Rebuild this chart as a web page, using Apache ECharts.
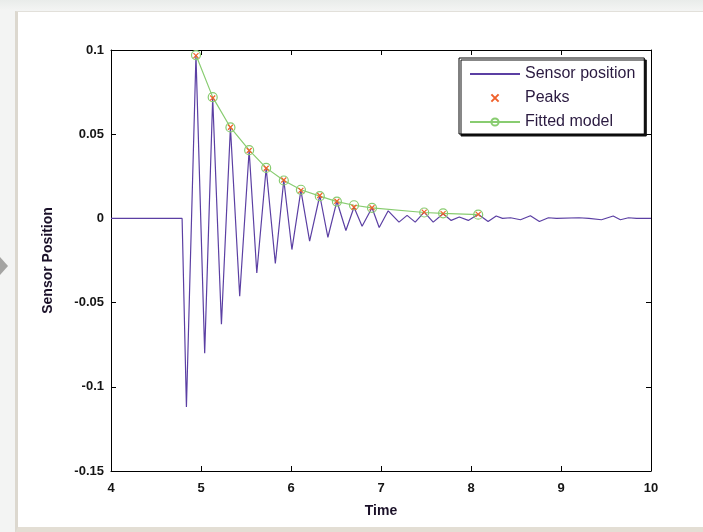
<!DOCTYPE html>
<html>
<head>
<meta charset="utf-8">
<script src="https://cdn.jsdelivr.net/npm/echarts@6/dist/echarts.min.js"></script>
<style>
  html, body {
    margin: 0;
    padding: 0;
    width: 703px;
    height: 532px;
    overflow: hidden;
    background: linear-gradient(to bottom, #e9ecea 0px, #f3f4f3 10px, #f3f4f3 100%);
  }
  .frame {
    position: absolute;
    left: 15px;
    top: 11px;
    width: 700px;
    height: 515px;
    background: #fff;
    border-left: 3px solid #dcd8cf;
    border-top: 1px solid #e2e0da;
    border-bottom: 6px solid #e3ded4;
  }
  .arrow {
    position: absolute;
    left: 0;
    top: 257px;
    width: 0;
    height: 0;
    border-top: 9px solid transparent;
    border-bottom: 9px solid transparent;
    border-left: 8px solid #a4a4a2;
  }
  #chart {
    position: absolute;
    left: 0;
    top: 0;
    width: 703px;
    height: 532px;
  }
</style>
</head>
<body>
<div class="frame"></div>
<div class="arrow"></div>
<div id="chart"></div>
<script>
// sensor trace: turning points
const sensorTime = [
  4.00, 4.79, 4.838, 4.944, 5.041, 5.130, 5.227, 5.327, 5.430, 5.535,
  5.620, 5.724, 5.826, 5.920, 6.010, 6.110, 6.207, 6.320, 6.410, 6.510,
  6.610, 6.700, 6.790, 6.900, 6.980, 7.080, 7.200, 7.290, 7.380, 7.480,
  7.580, 7.690, 7.780, 7.870, 7.970, 8.080, 8.190, 8.280, 8.350, 8.440,
  8.550, 8.660, 8.760, 8.860, 8.950, 9.200, 9.310, 9.450, 9.580, 9.660,
  9.750, 9.840, 10.00
]
const sensorPos = [
  0, 0, -0.112, 0.0967, -0.0800, 0.0715, -0.0628, 0.0541, -0.0462, 0.0403,
  -0.0324, 0.0298, -0.0268, 0.0228, -0.0185, 0.0166, -0.0135, 0.0136, -0.0112, 0.0102,
  -0.0072, 0.0066, -0.0047, 0.0063, -0.0054, 0.0045, -0.0022, 0.0018, -0.0022, 0.0037,
  -0.0022, 0.0028, -0.0012, 0.0008, -0.0012, 0.0024, -0.0018, 0.0014, 0, 0.0004,
  -0.0008, 0.0016, -0.0018, 0.0004, 0, 0.0004, 0, -0.0008, 0.0014, -0.0008,
  0.0004, 0, 0
]

// detected peaks and fitted decay at the same times
const peakTime = [4.944, 5.130, 5.327, 5.535, 5.724, 5.920, 6.110, 6.320, 6.510, 6.700, 6.900, 7.480, 7.690, 8.080]
const peakVal = [0.0967, 0.0715, 0.0541, 0.0403, 0.0298, 0.0228, 0.0166, 0.0136, 0.0102, 0.0066, 0.0063, 0.0037, 0.0028, 0.0024]
const fitVal = [0.0970, 0.0720, 0.0540, 0.0405, 0.0300, 0.0225, 0.0170, 0.0132, 0.0100, 0.0078, 0.0062, 0.0035, 0.0030, 0.0022]

const chart = echarts.init(document.getElementById('chart'))

const axisText = { color: '#151515', fontSize: 13, fontWeight: 'bold', fontFamily: 'Liberation Sans' }
const boxLine = { show: true, onZero: false, lineStyle: { color: '#000', width: 1 } }
const innerTick = { show: true, inside: true, length: 5, lineStyle: { color: '#000' } }
const xPath = 'path://M0,0L10,10M10,0L0,10'

const option = {
  animation: false,
  grid: { left: 111, right: 52, top: 50, bottom: 61 },
  legend: {
    left: 459,
    top: 58,
    orient: 'vertical',
    backgroundColor: '#fff',
    borderColor: '#000',
    borderWidth: 1,
    shadowColor: '#111',
    shadowOffsetX: 2,
    shadowOffsetY: 2,
    shadowBlur: 0,
    padding: [8, 9, 4, 10],
    itemWidth: 50,
    itemHeight: 9,
    itemGap: 8,
    textStyle: { color: '#2a1a40', fontSize: 16, fontFamily: 'Liberation Sans' },
    data: [
      { name: 'Sensor position', itemStyle: { opacity: 0 } },
      'Peaks',
      'Fitted model',
    ],
  },
  xAxis: [
    {
      type: 'value',
      min: 4,
      max: 10,
      interval: 1,
      position: 'bottom',
      axisLine: boxLine,
      axisTick: innerTick,
      axisLabel: { ...axisText, margin: 11 },
      splitLine: { show: false },
      name: 'Time',
      nameLocation: 'middle',
      nameGap: 33,
      nameTextStyle: { color: '#1a1028', fontSize: 14, fontWeight: 'bold', fontFamily: 'Liberation Sans' },
    },
    {
      type: 'value',
      min: 4,
      max: 10,
      interval: 1,
      position: 'top',
      axisLine: boxLine,
      axisTick: innerTick,
      axisLabel: { show: false },
      splitLine: { show: false },
    },
  ],
  yAxis: [
    {
      type: 'value',
      min: -0.15,
      max: 0.1,
      interval: 0.05,
      position: 'left',
      axisLine: boxLine,
      axisTick: innerTick,
      axisLabel: { ...axisText, margin: 7 },
      splitLine: { show: false },
      name: 'Sensor Position',
      nameLocation: 'middle',
      nameGap: 56,
      nameTextStyle: { color: '#1a1028', fontSize: 14, fontWeight: 'bold', fontFamily: 'Liberation Sans' },
    },
    {
      type: 'value',
      min: -0.15,
      max: 0.1,
      interval: 0.05,
      position: 'right',
      axisLine: boxLine,
      axisTick: innerTick,
      axisLabel: { show: false },
      splitLine: { show: false },
    },
  ],
  series: [
    {
      name: 'Sensor position',
      type: 'line',
      data: sensorTime.map((t, i) => [t, sensorPos[i]]),
      symbol: 'none',
      lineStyle: { color: '#5b3fa3', width: 1.2 },
      itemStyle: { color: '#5b3fa3' },
      z: 2,
    },
    {
      name: 'Fitted model',
      type: 'line',
      data: peakTime.map((t, i) => [t, fitVal[i]]),
      symbol: 'circle',
      symbolSize: 9,
      lineStyle: { color: '#88cc70', width: 1.2 },
      itemStyle: { color: 'rgba(0,0,0,0)', borderColor: '#88cc70', borderWidth: 1.2 },
      z: 3,
    },
    {
      // drawn as a line series with a hidden line so the legend marker stays small
      name: 'Peaks',
      type: 'line',
      data: peakTime.map((t, i) => [t, peakVal[i]]),
      symbol: xPath,
      symbolSize: 5,
      showAllSymbol: true,
      lineStyle: { opacity: 0 },
      itemStyle: { color: 'rgba(0,0,0,0)', borderColor: '#f0602a', borderWidth: 1.2 },
      z: 4,
    },
  ],
}

chart.setOption(option)
</script>
</body>
</html>
